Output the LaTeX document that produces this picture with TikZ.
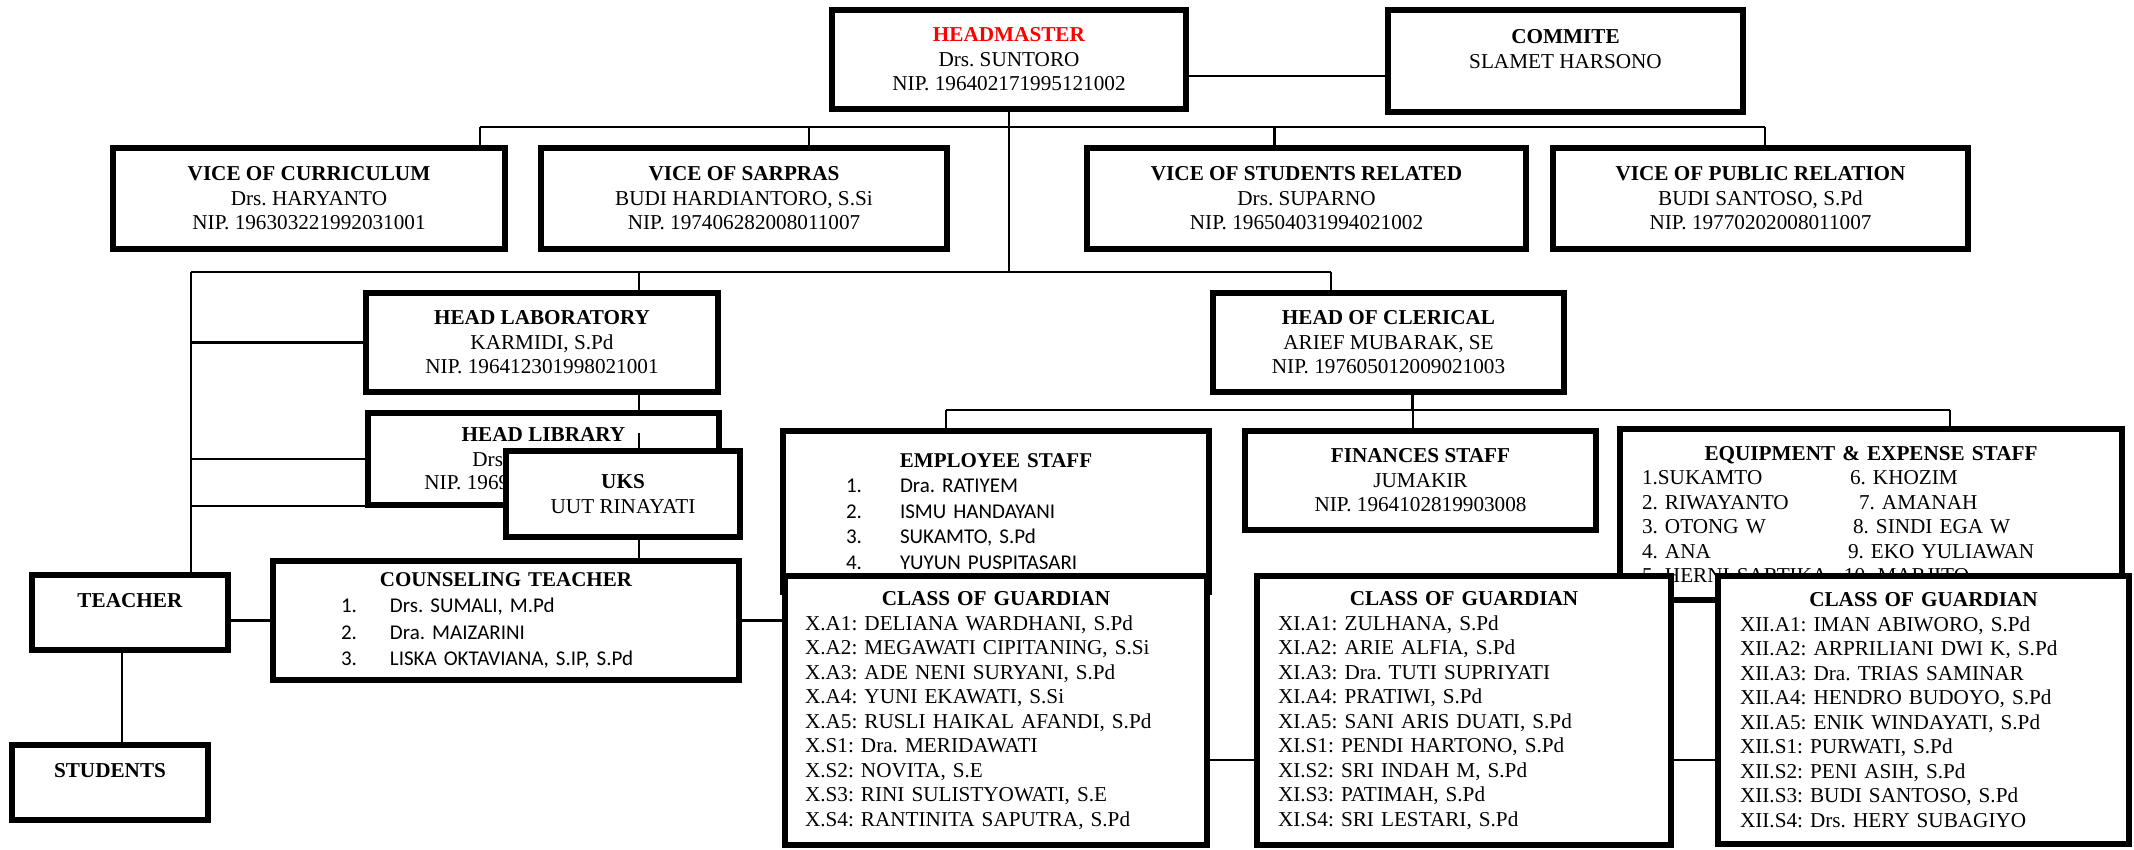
\documentclass[tikz,border=0pt]{standalone}
\usepackage{fontspec}
\setmainfont{Liberation Serif}
\newfontfamily\calibrifont{Carlito}
\frenchspacing
\usetikzlibrary{backgrounds}
\tikzset{
    unit/.style 2 args={%
        draw, line width=3pt, fill=white,
        anchor=north west, inner sep=0pt,
        minimum width=#1, minimum height=#2,
        align=center,
        font=\fontsize{10.6}{12.25}\selectfont
        },
    roster/.style={align=left, text width=#1},
    sanslist/.style={font=\calibrifont\fontsize{10.5}{#1}\selectfont},
    link/.style={line width=1.1pt}
}

\begin{document}
\begin{tikzpicture}[x=0.5pt, y=-0.5pt]
\useasboundingbox (0,0) rectangle (2134,850);

\node[unit={177pt}{49.5pt}] (head) at (829,7) {{\color{red}\textbf{HEADMASTER}}\\Drs. SUNTORO\\NIP. 196402171995121002};

\node[unit={177.5pt}{51pt}] (commite) at (1385,7) {\textbf{COMMITE}\\SLAMET HARSONO\\~};

\node[unit={196pt}{50.5pt}] (vcur) at (110,145) {\textbf{VICE OF CURRICULUM}\\Drs. HARYANTO\\NIP. 196303221992031001};

\node[unit={203pt}{50.5pt}] (vsar) at (538,145) {\textbf{VICE OF SARPRAS}\\BUDI HARDIANTORO, S.Si\\NIP. 197406282008011007};

\node[unit={219.5pt}{50.5pt}] (vstu) at (1084,145) {\textbf{VICE OF STUDENTS RELATED}\\Drs. SUPARNO\\NIP. 196504031994021002};

\node[unit={207.5pt}{50.5pt}] (vpub) at (1550,145) {\textbf{VICE OF PUBLIC RELATION}\\BUDI SANTOSO, S.Pd\\NIP. 19770202008011007};

\node[unit={176pt}{49.5pt}] (lab) at (363,290) {\textbf{HEAD LABORATORY}\\KARMIDI, S.Pd\\NIP. 196412301998021001};

\node[unit={175.5pt}{46pt}] (lib) at (365,410) {\textbf{HEAD LIBRARY}\\~\\~};
\node[anchor=west, inner sep=0pt, font=\fontsize{10.6}{12.25}\selectfont] (libname) at (472,460) {Drs.};
\node[anchor=west, inner sep=0pt, font=\fontsize{10.6}{12.25}\selectfont] (libnip) at (424,483) {NIP. 1969};

\node[unit={117pt}{43pt}] (uks) at (503,448) {\textbf{UKS}\\UUT RINAYATI};

\node[unit={233pt}{59.5pt}, roster=165pt, inner xsep=34pt, sanslist=13.25pt] (couns) at (270,558) {%
\hspace*{\fill}{\rmfamily\bfseries COUNSELING TEACHER}\hspace*{\fill}\mbox{}\\
\makebox[24.5pt][l]{1.}Drs. SUMALI, M.Pd\\
\makebox[24.5pt][l]{2.}Dra. MAIZARINI\\
\makebox[24.5pt][l]{3.}LISKA OKTAVIANA, S.IP, S.Pd};

\node[unit={98pt}{37.5pt}] (teacher) at (29,572) {\textbf{TEACHER}\\~};

\node[unit={98pt}{37.5pt}] (students) at (9,742) {\textbf{STUDENTS}\\~};

\node[unit={175.5pt}{49.5pt}] (clerical) at (1210,290) {\textbf{HEAD OF CLERICAL}\\ARIEF MUBARAK, SE\\NIP. 197605012009021003};

\node[unit={213pt}{80.5pt}, roster=150pt, inner xsep=31.5pt, sanslist=12.75pt] (employee) at (780,428) {%
\hspace*{\fill}{\rmfamily\bfseries EMPLOYEE STAFF}\hspace*{\fill}\mbox{}\\
\makebox[27pt][l]{1.}Dra. RATIYEM\\
\makebox[27pt][l]{2.}ISMU HANDAYANI\\
\makebox[27pt][l]{3.}SUKAMTO, S.Pd\\
\makebox[27pt][l]{4.}YUYUN PUSPITASARI};

\node[unit={175.5pt}{49.5pt}] (finances) at (1242,428) {\textbf{FINANCES STAFF}\\JUMAKIR\\NIP. 1964102819903008};

\node[unit={251pt}{85.5pt}, roster=229pt, inner xsep=11pt] (equip) at (1617,426) {%
\hspace*{\fill}\textbf{EQUIPMENT \& EXPENSE STAFF}\hspace*{\fill}\mbox{}\\
\makebox[104pt][l]{1.SUKAMTO}6. KHOZIM\\
\makebox[108.5pt][l]{2. RIWAYANTO}7. AMANAH\\
\makebox[105.5pt][l]{3. OTONG W}8. SINDI EGA W\\
\makebox[103pt][l]{4. ANA}9. EKO YULIAWAN\\
\makebox[101pt][l]{5. HERNI SARTIKA}10. MARJITO};

% class guardians
\node[unit={211pt}{134.5pt}, roster=191pt, inner xsep=10pt] (classX) at (782,573) {%
\hspace*{\fill}\textbf{CLASS OF GUARDIAN}\hspace*{\fill}\mbox{}\\
X.A1: DELIANA WARDHANI, S.Pd\\
X.A2: MEGAWATI CIPITANING, S.Si\\
X.A3: ADE NENI SURYANI, S.Pd\\
X.A4: YUNI EKAWATI, S.Si\\
X.A5: RUSLI HAIKAL AFANDI, S.Pd\\
X.S1: Dra. MERIDAWATI\\
X.S2: NOVITA, S.E\\
X.S3: RINI SULISTYOWATI, S.E\\
X.S4: RANTINITA SAPUTRA, S.Pd};

\node[unit={207pt}{134.5pt}, roster=186pt, inner xsep=10.5pt] (classXI) at (1254,573) {%
\hspace*{\fill}\textbf{CLASS OF GUARDIAN}\hspace*{\fill}\mbox{}\\
XI.A1: ZULHANA, S.Pd\\
XI.A2: ARIE ALFIA, S.Pd\\
XI.A3: Dra. TUTI SUPRIYATI\\
XI.A4: PRATIWI, S.Pd\\
XI.A5: SANI ARIS DUATI, S.Pd\\
XI.S1: PENDI HARTONO, S.Pd\\
XI.S2: SRI INDAH M, S.Pd\\
XI.S3: PATIMAH, S.Pd\\
XI.S4: SRI LESTARI, S.Pd};

\node[unit={205.5pt}{134pt}, roster=183.5pt, inner xsep=11pt] (classXII) at (1715,573) {%
\hspace*{\fill}\textbf{CLASS OF GUARDIAN}\hspace*{\fill}\mbox{}\\
XII.A1: IMAN ABIWORO, S.Pd\\
XII.A2: ARPRILIANI DWI K, S.Pd\\
XII.A3: Dra. TRIAS SAMINAR\\
XII.A4: HENDRO BUDOYO, S.Pd\\
XII.A5: ENIK WINDAYATI, S.Pd\\
XII.S1: PURWATI, S.Pd\\
XII.S2: PENI ASIH, S.Pd\\
XII.S3: BUDI SANTOSO, S.Pd\\
XII.S4: Drs. HERY SUBAGIYO};

\begin{scope}[on background layer]
\coordinate (topbusL) at (480,127);
\coordinate (topbusR) at (1765,127);
\coordinate (lowbusL) at (191,272);
\coordinate (lowbusR) at (1331,272);
\coordinate (staffL) at (946,410);
\coordinate (staffR) at (1950,410);

\draw[link] ([yshift=-8.25pt]head.east) -- ([yshift=-8.25pt]head.east -| commite.west);
\draw[link] (head.south) -- (head.south |- lowbusL);

\draw[link] (topbusL) -- (topbusR);
\draw[link] (topbusL) -- (topbusL |- vcur.north);
\draw[link] ([xshift=32.5pt]vsar.north) -- ([xshift=32.5pt]vsar.north |- topbusL);
\draw[link] ([xshift=-16pt]vstu.north) -- ([xshift=-16pt]vstu.north |- topbusL);
\draw[link] (topbusR) -- (topbusR |- vpub.north);

\draw[link] (lowbusL) -- (lowbusR);
\draw[link] (lowbusL) -- (lowbusL |- teacher.north);
\draw[link] ([xshift=48.5pt]lab.north) -- ([xshift=48.5pt]lab.north |- lowbusL);
\draw[link] (lab.west -| lowbusL) -- (lab.west);
\draw[link] (lib.west -| lowbusL) -- (lib.west);
\draw[link] ([yshift=-6pt]uks.west -| lowbusL) -- ([yshift=-6pt]uks.west);
\draw[link] ([xshift=48.5pt]lab.south) -- ([xshift=48.5pt]lab.south |- lib.north);
\draw[link] ([xshift=8pt]uks.south) -- ([xshift=8pt]uks.south |- couns.north);
\draw[link] (couns.west) -- (couns.west -| teacher.east);
\draw[link] (couns.east) -- (couns.east -| classX.west);
\draw[link] ([xshift=6pt]students.north) -- ([xshift=6pt]students.north |- teacher.south);

\draw[link] (lowbusR) -- (lowbusR |- clerical.north);
\draw[link] ([xshift=12pt]clerical.south) -- ([xshift=12pt]clerical.south |- staffL);
\draw[link] (staffL) -- (staffR);
\draw[link] (staffL) -- (staffL |- employee.north);
\draw[link] ([xshift=-3.75pt]finances.north) -- ([xshift=-3.75pt]finances.north |- staffL);
\draw[link] (staffR) -- (staffR |- equip.north);

\draw[link] ([yshift=-24.75pt]classX.east) -- ([yshift=-24.75pt]classX.east -| classXI.west);
\draw[link] ([yshift=-24.75pt]classXI.east) -- ([yshift=-24.75pt]classXI.east -| classXII.west);
\end{scope}

\draw[link] ([xshift=8pt]uks.north) -- ++(0,7.5pt);

\end{tikzpicture}
\end{document}
